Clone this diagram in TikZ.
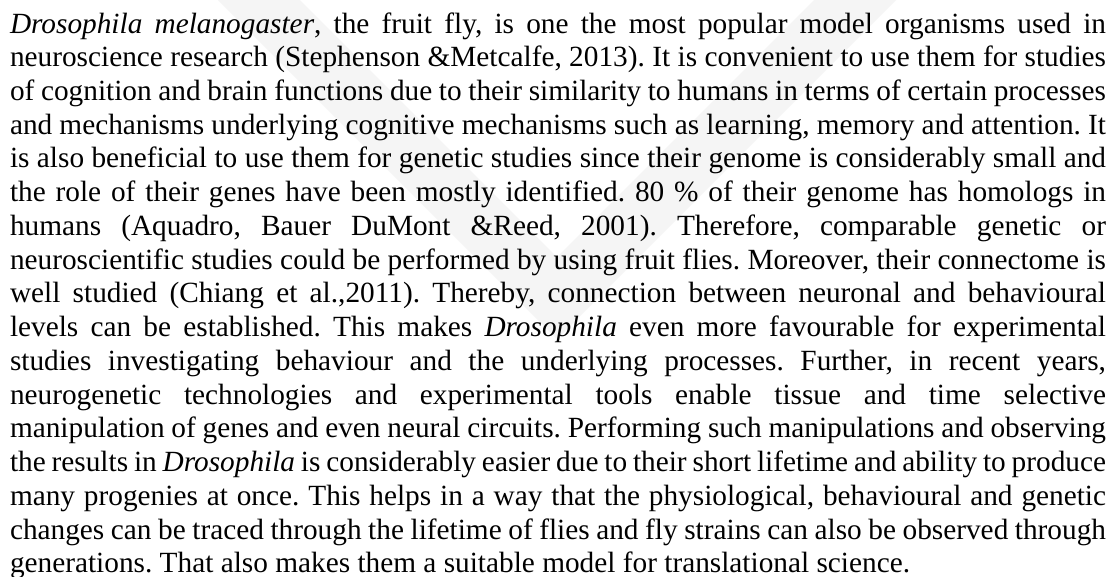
\documentclass[tikz,border=0pt]{standalone}
\usepackage{fontspec}
\setmainfont{Liberation Serif}
\newdimen\pxu
\pxu=0.4054pt
\newcommand{\jline}[1]{\makebox[1096\pxu][s]{#1}}
\tikzset{
  para/.style={anchor=base west, inner sep=0pt, outer sep=0pt, align=left, text width=1096\pxu,
    font=\fontsize{11.88pt}{13.68pt}\selectfont},
  wmark/.style={fill=black!4, draw=none}
}
\begin{document}
\begin{tikzpicture}[x=0.4054pt, y=-0.4054pt]
\useasboundingbox (0,0) rectangle (1120,577);
\fill[white] (0,0) rectangle (1120,577);
% faint watermark
\path[wmark] (218,0) -- (300,0) -- (557,257) -- (814,0) -- (896,0) -- (557,339) -- cycle;
\node[para] (txt) at (10,33) {\frenchspacing\spaceskip=0.25em plus 2em minus 0.12em\relax
\jline{\textit{Drosophila melanogaster}, the fruit fly, is one the most popular model organisms used in}\\
\jline{neuroscience research (Stephenson \&Metcalfe, 2013). It is convenient to use them for studies}\\
\jline{of cognition and brain functions due to their similarity to humans in terms of certain processes}\\
\jline{and mechanisms underlying cognitive mechanisms such as learning, memory and attention. It}\\
\jline{is also beneficial to use them for genetic studies since their genome is considerably small and}\\
\jline{the role of their genes have been mostly identified. 80 \% of their genome has homologs in}\\
\jline{humans (Aquadro, Bauer DuMont \&Reed, 2001). Therefore, comparable genetic or}\\
\jline{neuroscientific studies could be performed by using fruit flies. Moreover, their connectome is}\\
\jline{well studied (Chiang et al.,2011). Thereby, connection between neuronal and behavioural}\\
\jline{levels can be established. This makes \textit{Drosophila} even more favourable for experimental}\\
\jline{studies investigating behaviour and the underlying processes. Further, in recent years,}\\
\jline{neurogenetic technologies and experimental tools enable tissue and time selective}\\
\jline{manipulation of genes and even neural circuits. Performing such manipulations and observing}\\
\jline{the results in \textit{Drosophila} is considerably easier due to their short lifetime and ability to produce}\\
\jline{many progenies at once. This helps in a way that the physiological, behavioural and genetic}\\
\jline{changes can be traced through the lifetime of flies and fly strains can also be observed through}\\
generations. That also makes them a suitable model for translational science.};
\end{tikzpicture}
\end{document}
